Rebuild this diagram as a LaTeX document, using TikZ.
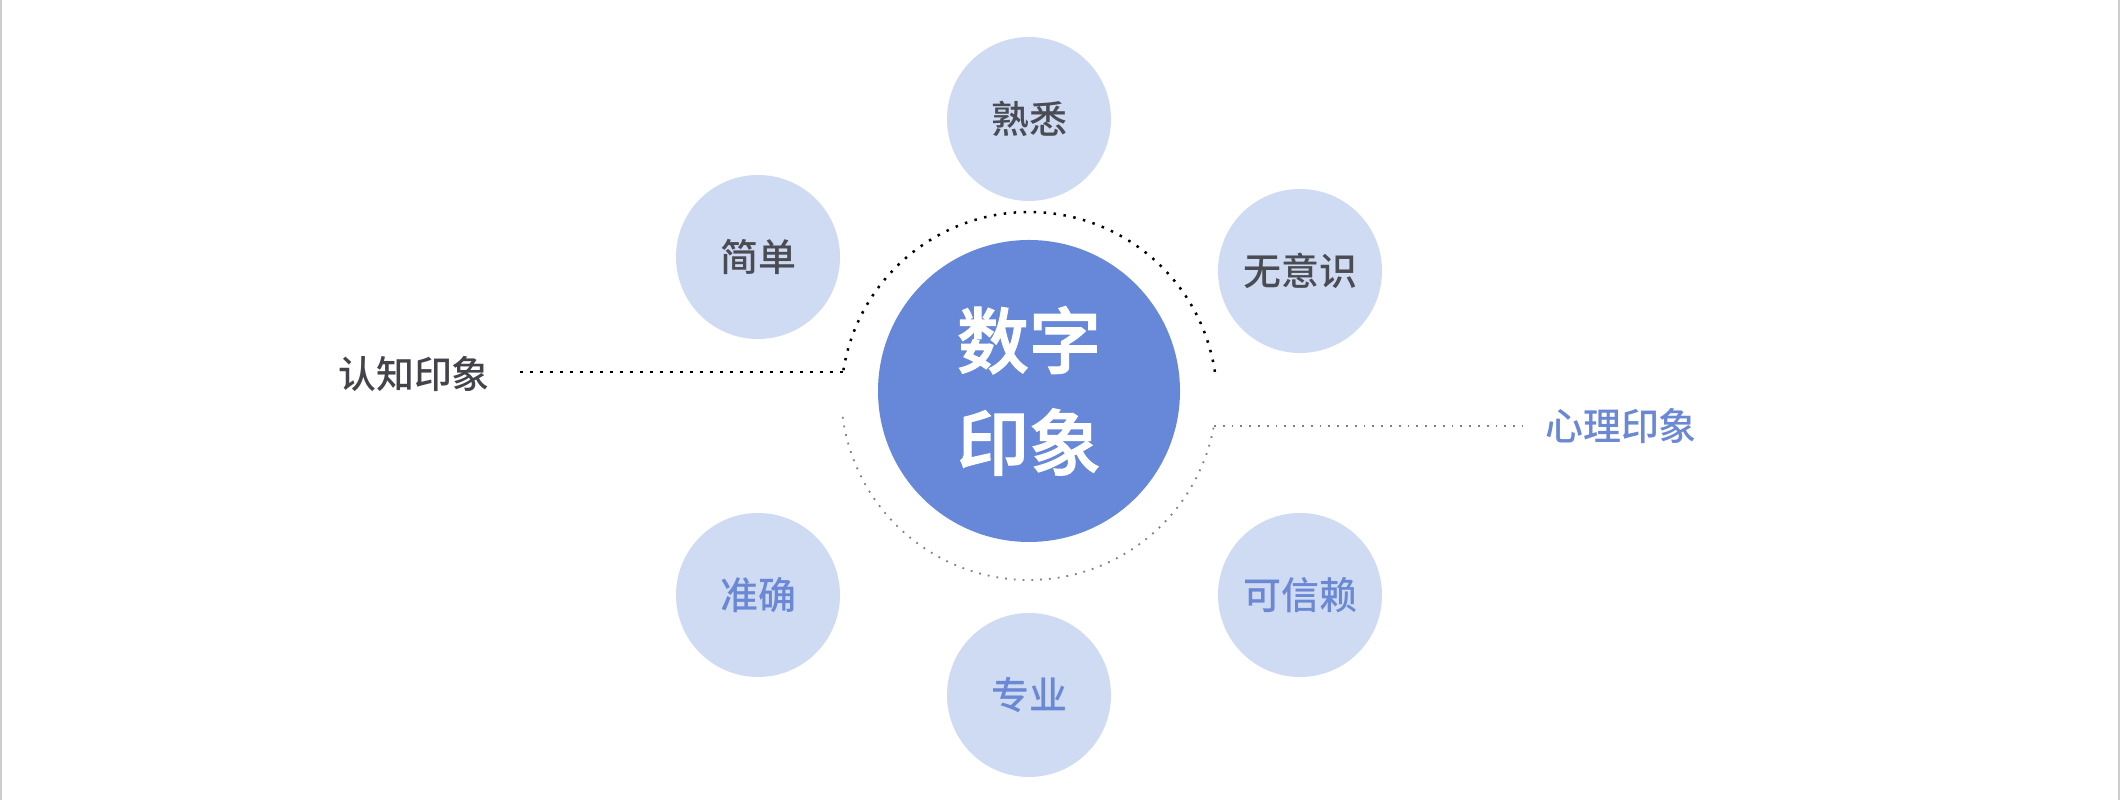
\documentclass[tikz,border=0pt]{standalone}
\usepackage{fontspec}
\setmainfont{Noto Sans CJK SC}
\IfFontExistsTF{Noto Sans CJK SC Medium}
  {\newfontfamily\midfont{Noto Sans CJK SC Medium}
   \newfontfamily\heavyfont[FakeBold=1.6]{Noto Sans CJK SC Medium}}
  {\newfontfamily\midfont[FakeBold=1.2]{Noto Sans CJK SC}
   \newfontfamily\heavyfont[FakeBold=2.5]{Noto Sans CJK SC}}
\usepackage{tikz}
\usetikzlibrary{calc}
\definecolor{mainblue}{HTML}{6788D9}
\definecolor{lightblue}{HTML}{CFDAF3}
\definecolor{darktext}{HTML}{4A4C53}
\definecolor{bluetext}{HTML}{6A88D4}

\begin{document}
\begin{tikzpicture}[x=0.1mm, y=0.1mm,
  bubble/.style={circle, fill=lightblue, minimum size=16.4mm, inner sep=0pt, font=\midfont\fontsize{10.8}{12}\selectfont},
  dots/.style={line width=0.25mm, dash pattern=on 0.25mm off 0.75mm},
  thindots/.style={line width=0.18mm, color=gray, dash pattern=on 0.18mm off 0.7mm}]
\useasboundingbox (0,0) rectangle (2121,800);
\draw[color=black!20, line width=0.2mm] (1,0) -- (1,800);
\draw[color=black!20, line width=0.2mm] (2119,0) -- (2119,800);
\node[circle, fill=mainblue, minimum size=30.2mm, inner sep=0pt, text=white, align=center,
  font=\heavyfont\fontsize{20.5}{29}\selectfont] (main) at (1029,409) {数字\\印象};
\foreach \name/\x/\y/\txt/\col in
{shuxi/1029/681/熟悉/darktext, jiandan/758/543/简单/darktext, wuyishi/1300/529/无意识/darktext,
 zhunque/758/205/准确/bluetext, kexinlai/1300/205/可信赖/bluetext, zhuanye/1029/105/专业/bluetext}
\node[bubble, text=\col] (\name) at (\x,\y) {\txt};
% ring round the centre
\coordinate (ringup) at (1029,400);
\coordinate (ringdown) at (1029,408);
\coordinate (ringL) at ($(ringup)+(171.4:188)$);
\coordinate (ringR) at ($(ringdown)+(-10.4:188)$);
\draw[dots] ($(ringup)+(8.6:188)$) arc[start angle=8.6, end angle=171.4, radius=18.8mm];
\draw[thindots] ($(ringdown)+(187.6:188)$) arc[start angle=187.6, end angle=349.6, radius=18.8mm];
% side labels
\node[text=darktext!90!black, font=\midfont\fontsize{10.8}{12}\selectfont] (cogn) at (414,426) {认知印象};
\node[text=bluetext, font=\midfont\fontsize{10.8}{12}\selectfont] (psych) at (1621,374) {心理印象};
\draw[dots] (cogn.east |- ringL) ++(18,0) -- (ringL);
\draw[thindots] (ringR) -- ($(psych.west |- ringR)+(-10,0)$);
\end{tikzpicture}
\end{document}
